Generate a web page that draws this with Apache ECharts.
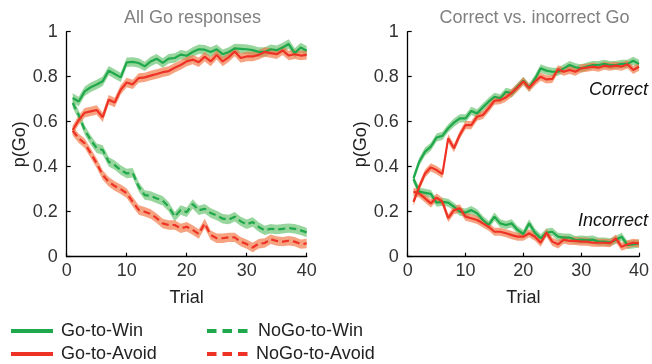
<!DOCTYPE html>
<html>
<head>
<meta charset="utf-8">
<script src="https://cdn.jsdelivr.net/npm/echarts@6/dist/echarts.min.js"></script>
<style>
html,body{margin:0;padding:0;background:#fff;}
#chart{width:652px;height:364px;}
</style>
</head>
<body>
<div id="chart"></div>
<script>
// ---- data ----
var trials = [1,2,3,4,5,6,7,8,9,10,11,12,13,14,15,16,17,18,19,20,21,22,23,24,25,26,27,28,29,30,31,32,33,34,35,36,37,38,39,40];
var xTicks = [0,10,20,30,40];
var yTicks = [0,0.2,0.4,0.6,0.8,1];

// Left panel: All Go responses
var goWinAll = [0.705,0.69,0.735,0.753,0.765,0.78,0.827,0.812,0.797,0.864,0.866,0.861,0.846,0.868,0.88,0.861,0.88,0.883,0.898,0.893,0.91,0.922,0.92,0.91,0.922,0.90,0.91,0.926,0.924,0.922,0.918,0.91,0.91,0.922,0.918,0.93,0.945,0.905,0.93,0.915];
var goAvoidAll = [0.563,0.607,0.64,0.646,0.652,0.62,0.698,0.685,0.742,0.774,0.766,0.794,0.797,0.805,0.812,0.82,0.825,0.84,0.852,0.868,0.876,0.864,0.889,0.868,0.897,0.868,0.886,0.912,0.883,0.89,0.89,0.897,0.91,0.905,0.90,0.917,0.894,0.90,0.894,0.897];
var noGoWinAll = [0.683,0.63,0.563,0.519,0.482,0.474,0.422,0.407,0.385,0.37,0.373,0.311,0.274,0.27,0.259,0.249,0.222,0.178,0.208,0.198,0.234,0.206,0.213,0.194,0.183,0.169,0.165,0.178,0.157,0.144,0.154,0.132,0.117,0.124,0.121,0.124,0.127,0.124,0.117,0.108];
var noGoAvoidAll = [0.56,0.526,0.504,0.46,0.415,0.363,0.333,0.314,0.30,0.282,0.244,0.208,0.20,0.19,0.171,0.148,0.141,0.141,0.126,0.133,0.119,0.101,0.148,0.096,0.082,0.082,0.086,0.086,0.067,0.056,0.041,0.058,0.061,0.078,0.07,0.067,0.071,0.067,0.056,0.059];

// Right panel: Correct vs. incorrect Go
var goWinCorrect = [0.348,0.422,0.467,0.489,0.53,0.537,0.571,0.596,0.615,0.615,0.648,0.637,0.664,0.689,0.711,0.704,0.733,0.726,0.755,0.782,0.752,0.79,0.837,0.827,0.822,0.822,0.837,0.852,0.842,0.837,0.845,0.852,0.852,0.857,0.852,0.852,0.857,0.857,0.871,0.857];
var goAvoidCorrect = [0.244,0.311,0.37,0.397,0.385,0.367,0.526,0.482,0.541,0.585,0.585,0.622,0.63,0.66,0.693,0.696,0.708,0.729,0.752,0.78,0.75,0.778,0.80,0.788,0.79,0.833,0.822,0.83,0.822,0.837,0.84,0.845,0.84,0.849,0.845,0.849,0.845,0.855,0.83,0.844];
var goWinIncorrect = [0.345,0.289,0.284,0.279,0.24,0.244,0.24,0.222,0.20,0.196,0.207,0.193,0.163,0.141,0.178,0.148,0.141,0.148,0.119,0.101,0.148,0.107,0.082,0.107,0.111,0.089,0.085,0.085,0.074,0.076,0.074,0.076,0.067,0.067,0.064,0.074,0.089,0.052,0.055,0.059];
var goAvoidIncorrect = [0.289,0.281,0.259,0.237,0.263,0.244,0.171,0.207,0.215,0.178,0.171,0.163,0.148,0.133,0.111,0.111,0.104,0.096,0.089,0.089,0.104,0.089,0.062,0.107,0.067,0.055,0.076,0.07,0.07,0.067,0.067,0.062,0.062,0.062,0.06,0.081,0.044,0.055,0.062,0.059];

var bandHalfLeft = 0.021;   // half width of the shaded error band
var bandHalfRight = 0.018;

// ---- style ----
var FONT = 'Liberation Sans, Arial, sans-serif';
var GREEN = '#1fa84c';
var RED = '#ee3226';
var GREEN_BAND = 'rgba(105,195,112,0.68)';
var RED_BAND = 'rgba(242,120,70,0.68)';

var series = [];
function addBand(axis, vals, half, color) {
  var data = trials.map(function (t, i) { return [t, vals[i] - half, vals[i] + half]; });
  series.push({
    type: 'custom', xAxisIndex: axis, yAxisIndex: axis, silent: true, z: 1,
    encode: {x: 0, y: [1, 2]},
    data: data,
    renderItem: function (params, api) {
      if (params.dataIndex !== 0) return null;
      var upper = [], lower = [];
      for (var i = 0; i < data.length; i++) {
        upper.push(api.coord([data[i][0], data[i][2]]));
        lower.push(api.coord([data[i][0], data[i][1]]));
      }
      return {
        type: 'polygon',
        shape: {points: upper.concat(lower.reverse())},
        style: {fill: color}
      };
    }
  });
}
function addLine(axis, vals, color, dashed) {
  series.push({
    type: 'line', xAxisIndex: axis, yAxisIndex: axis, symbol: 'none', silent: true, z: 3,
    lineStyle: {color: color, width: 2.2, type: dashed ? [7, 4] : 'solid'},
    data: trials.map(function (t, i) { return [t, vals[i]]; })
  });
}

addBand(0, noGoWinAll, bandHalfLeft, GREEN_BAND);
addBand(0, noGoAvoidAll, bandHalfLeft, RED_BAND);
addBand(0, goWinAll, bandHalfLeft, GREEN_BAND);
addBand(0, goAvoidAll, bandHalfLeft, RED_BAND);
addLine(0, noGoWinAll, GREEN, true);
addLine(0, noGoAvoidAll, RED, true);
addLine(0, goWinAll, GREEN, false);
addLine(0, goAvoidAll, RED, false);

addBand(1, goWinIncorrect, bandHalfRight, GREEN_BAND);
addBand(1, goAvoidIncorrect, bandHalfRight, RED_BAND);
addBand(1, goWinCorrect, bandHalfRight, GREEN_BAND);
addBand(1, goAvoidCorrect, bandHalfRight, RED_BAND);
addLine(1, goWinIncorrect, GREEN, false);
addLine(1, goAvoidIncorrect, RED, false);
addLine(1, goWinCorrect, GREEN, false);
addLine(1, goAvoidCorrect, RED, false);

function xAxisDef(idx) {
  return {
    type: 'value', gridIndex: idx, min: xTicks[0], max: xTicks[xTicks.length - 1], interval: 10,
    name: 'Trial', nameLocation: 'middle', nameGap: 32,
    nameTextStyle: {fontFamily: FONT, fontSize: 18, color: '#222'},
    axisLine: {show: true, lineStyle: {color: '#000', width: 1.3}},
    axisTick: {show: true, inside: true, length: 4, lineStyle: {color: '#000', width: 1.2}},
    axisLabel: {fontFamily: FONT, fontSize: 18, color: '#333', margin: 5},
    splitLine: {show: false}
  };
}
function yAxisDef(idx) {
  return {
    type: 'value', gridIndex: idx, min: yTicks[0], max: yTicks[yTicks.length - 1], interval: 0.2,
    name: 'p(Go)', nameLocation: 'middle', nameGap: 36, nameRotate: 90,
    nameTextStyle: {fontFamily: FONT, fontSize: 18, color: '#222'},
    axisLine: {show: true, lineStyle: {color: '#000', width: 1.3}},
    axisTick: {show: true, inside: true, length: 4, lineStyle: {color: '#000', width: 1.2}},
    axisLabel: {fontFamily: FONT, fontSize: 18, color: '#333', margin: 9},
    splitLine: {show: false}
  };
}

var legendY1 = 331, legendY2 = 354;
var LFONT = '18px ' + FONT;
var graphic = [
  {type: 'line', shape: {x1: 11, y1: legendY1, x2: 53, y2: legendY1}, style: {stroke: GREEN, lineWidth: 4}},
  {type: 'text', x: 61, y: legendY1, style: {text: 'Go-to-Win', font: LFONT, fill: '#222', verticalAlign: 'middle'}},
  {type: 'line', shape: {x1: 11, y1: legendY2, x2: 53, y2: legendY2}, style: {stroke: RED, lineWidth: 4}},
  {type: 'text', x: 61, y: legendY2, style: {text: 'Go-to-Avoid', font: LFONT, fill: '#222', verticalAlign: 'middle'}},
  {type: 'line', shape: {x1: 207, y1: legendY1, x2: 250, y2: legendY1}, style: {stroke: GREEN, lineWidth: 4, lineDash: [9.5, 6]}},
  {type: 'text', x: 258, y: legendY1, style: {text: 'NoGo-to-Win', font: LFONT, fill: '#222', verticalAlign: 'middle'}},
  {type: 'line', shape: {x1: 207, y1: legendY2, x2: 250, y2: legendY2}, style: {stroke: RED, lineWidth: 4, lineDash: [9.5, 6]}},
  {type: 'text', x: 256, y: legendY2, style: {text: 'NoGo-to-Avoid', font: LFONT, fill: '#222', verticalAlign: 'middle'}},
  {type: 'text', x: 648, y: 90, style: {text: 'Correct', font: 'italic 18px ' + FONT, fill: '#111', align: 'right', verticalAlign: 'middle'}},
  {type: 'text', x: 648, y: 221, style: {text: 'Incorrect', font: 'italic 18px ' + FONT, fill: '#111', align: 'right', verticalAlign: 'middle'}}
];

var chart = echarts.init(document.getElementById('chart'), null, {renderer: 'canvas'});
chart.setOption({
  animation: false,
  backgroundColor: '#fff',
  title: [
    {text: 'All Go responses', left: 187.5, top: 4, textAlign: 'center',
     textStyle: {fontFamily: FONT, fontSize: 18, fontWeight: 'normal', color: '#808080'}},
    {text: 'Correct vs. incorrect Go', left: 529.5, top: 4, textAlign: 'center',
     textStyle: {fontFamily: FONT, fontSize: 18, fontWeight: 'normal', color: '#808080'}}
  ],
  grid: [
    {left: 66.7, top: 31.7, width: 240, height: 225},
    {left: 407.7, top: 31.7, width: 240, height: 225}
  ],
  xAxis: [xAxisDef(0), xAxisDef(1)],
  yAxis: [yAxisDef(0), yAxisDef(1)],
  series: series,
  graphic: graphic
});
</script>
</body>
</html>
